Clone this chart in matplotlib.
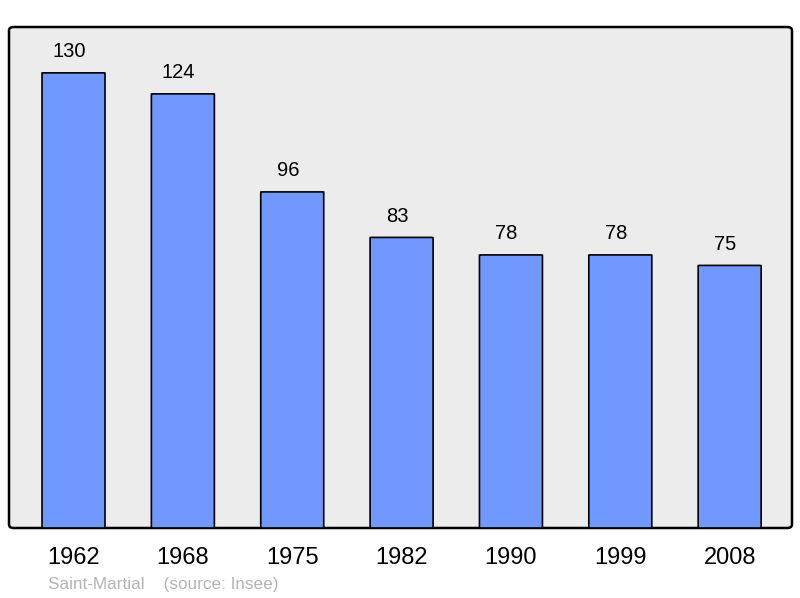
import matplotlib
matplotlib.use("Agg")
import matplotlib.pyplot as plt
from matplotlib.patches import FancyBboxPatch
import numpy as np

plt.rcParams['font.family'] = ['Liberation Sans', 'DejaVu Sans']

years = ["1962", "1968", "1975", "1982", "1990", "1999", "2008"]
population = [130, 124, 96, 83, 78, 78, 75]

fig = plt.figure(figsize=(8, 5.98), dpi=100)
ax = fig.add_axes([9 / 800, 70 / 598, 783 / 800, 501 / 598])
ax.set_facecolor("none")
ax.set_zorder(2)

# background frame with rounded corners
frame = FancyBboxPatch((9 / 800, 70 / 598), 783 / 800, 501 / 598,
                       boxstyle="round,pad=0,rounding_size=0.006",
                       transform=fig.transFigure, facecolor="#ececec",
                       edgecolor="black", linewidth=1.8, zorder=-1)
fig.patches.append(frame)

x = np.arange(len(years))
for xi, v in zip(x, population):
    bar = FancyBboxPatch((xi - 0.288, 0), 0.576, v,
                         boxstyle="round,pad=0,rounding_size=0.02",
                         mutation_aspect=3,
                         facecolor="#7098ff", edgecolor="black",
                         linewidth=1.2, zorder=2)
    ax.add_patch(bar)
    ax.text(xi - 0.04, v + 3.4, str(v), ha="center", va="bottom", fontsize=14.5)

ax.set_xlim(-0.59, 6.57)
ax.set_ylim(0, 143.1)
for s in ax.spines.values():
    s.set_visible(False)
ax.set_xticks(x)
ax.set_xticklabels(years, fontsize=17)
ax.tick_params(axis="x", length=0, pad=14)
ax.set_yticks([])

fig.text(48 / 800, 1 - 584 / 598, "Saint-Martial    (source: Insee)",
         fontsize=12.3, color="#b4b4b4", va="center", ha="left")

fig.savefig("out.png", dpi=100)
